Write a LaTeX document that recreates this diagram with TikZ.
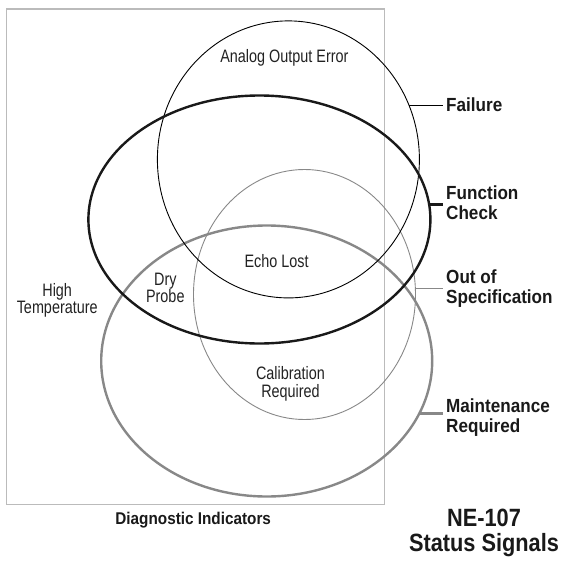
\documentclass[tikz,border=0pt]{standalone}
\usepackage{fontspec}
\setmainfont{Liberation Sans}
\newfontfamily\condf[FakeStretch=0.80]{Liberation Sans}
\newfontfamily\condbf[FakeStretch=0.90]{Liberation Sans}
\newfontfamily\condtf[FakeStretch=0.87]{Liberation Sans}
\usetikzlibrary{shapes.geometric}
\definecolor{rectgray}{HTML}{BBBBBB}
\definecolor{ringgray}{HTML}{888888}
\definecolor{txtdark}{HTML}{222222}
\tikzset{
  ring/.style={ellipse, draw, inner sep=0pt, outer sep=0pt},
  thinblack/.style={ring, draw=black, line width=0.9pt},
  thickblack/.style={ring, draw=black!90, line width=2.4pt},
  thingray/.style={ring, draw=ringgray, line width=0.9pt},
  thickgray/.style={ring, draw=ringgray, line width=2.4pt},
  inlabel/.style={inner sep=0pt, align=center, text=txtdark, font=\condf\fontsize{18}{17.4}\selectfont},
  sidelabel/.style={inner sep=0pt, anchor=west, align=left, text=black!90, font=\condbf\bfseries\fontsize{19}{20}\selectfont},
  bottomlabel/.style={inner sep=0pt, align=center, text=black!90, font=\condbf\bfseries\fontsize{17}{18}\selectfont},
  titlelabel/.style={inner sep=0pt, align=center, text=black!90, font=\condtf\bfseries\fontsize{25}{25.5}\selectfont},
}
\begin{document}
\begin{tikzpicture}[x=1pt, y=-1pt]
\useasboundingbox (0,0) rectangle (561,576);
% frame
\node[draw=rectgray, line width=1.1pt, inner sep=0pt, minimum width=378pt, minimum height=495.5pt] (frame) at (195.5,256.75) {};
% rings
\node[thickgray, minimum width=331pt, minimum height=271pt] (maint) at (266.7,361) {};
\node[thingray, minimum width=222pt, minimum height=250pt] (oos) at (304.5,294.5) {};
\node[thinblack, minimum width=262pt, minimum height=277pt] (fail) at (288.4,159.4) {};
\node[thickblack, minimum width=342pt, minimum height=248pt] (func) at (259.4,219.5) {};
% inner labels
\node[inlabel] (aoe) at (284.4,58) {Analog Output Error};
\node[inlabel] (echo) at (276.6,261) {Echo Lost};
\node[inlabel] (dry) at (165.3,288) {Dry\\Probe};
\node[inlabel] (high) at (57.2,300.5) {High\\Temperature};
\node[inlabel] (cal) at (290.5,384) {Calibration\\Required};
% side labels
\node[sidelabel] (failtxt) at (446,104.5) {Failure};
\node[sidelabel] (functxt) at (446,203) {Function\\Check};
\node[sidelabel] (oostxt) at (446,289) {Out of\\Specification};
\node[sidelabel] (mainttxt) at (446,417.5) {Maintenance\\Required};
\coordinate (failEnd) at (442.6,104.5);
\coordinate (funcEnd) at (442.6,203);
\coordinate (oosEnd) at (442.6,288);
\coordinate (maintEnd) at (442.6,414);
% connectors
\draw[black, line width=0.9pt] (fail.24.4) -- (fail.24.4 -| failEnd);
\draw[black!90, line width=2.4pt] (func.5.56) -- (func.5.56 -| funcEnd);
\draw[ringgray, line width=0.9pt] (oos.3.36) -- (oos.3.36 -| oosEnd);
\draw[ringgray, line width=2.4pt] (maint.-19.2) -- (maint.-19.2 -| maintEnd);
% bottom labels
\node[bottomlabel] (diag) at (193.2,520.6) {Diagnostic Indicators};
\node[titlelabel] (title) at (484,533) {NE-107\\Status Signals};
\end{tikzpicture}
\end{document}
